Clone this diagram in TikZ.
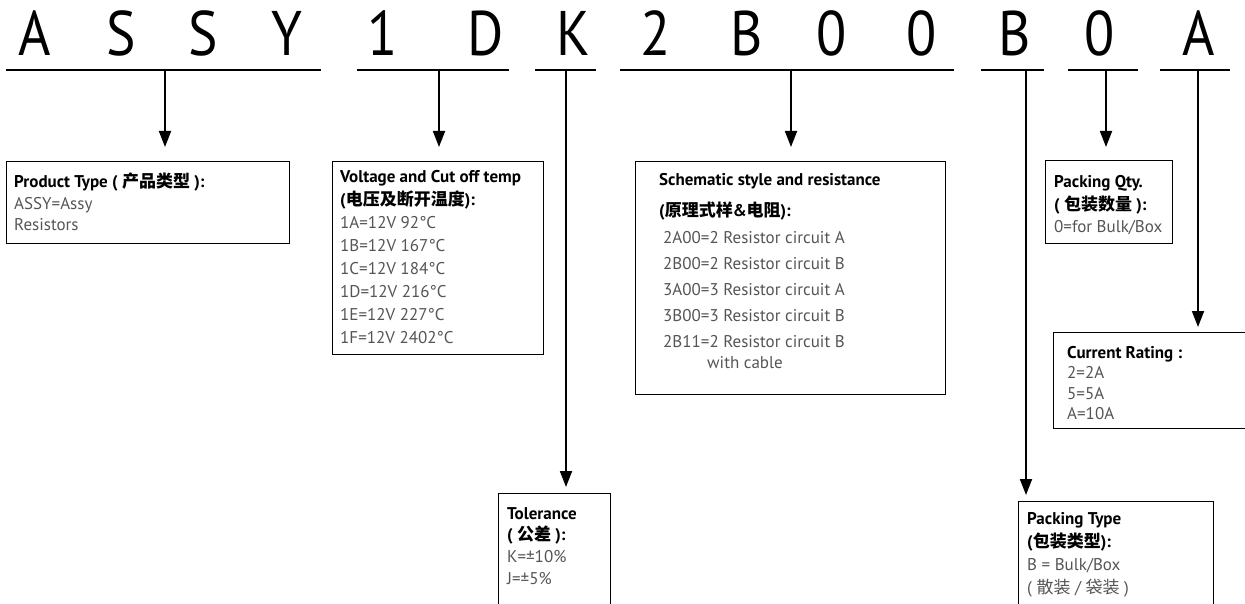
\documentclass[tikz,border=0pt]{standalone}
\usepackage{fontspec}
\setmainfont{PT Sans}
\newfontfamily\cjk{Noto Sans CJK SC}
\newfontfamily\bigf[FakeStretch=0.88]{PT Sans}
\usetikzlibrary{arrows.meta,calc}
\definecolor{txtgray}{RGB}{85,85,85}
\begin{document}
\begin{tikzpicture}[x=1pt,y=-1pt,
  seg/.style={line width=2pt},
  arr/.style={line width=1.8pt,-{Triangle[length=16pt,width=12pt]}},
  box/.style={draw,line width=1.3pt,inner sep=0pt,anchor=north west},
  big/.style={font=\bigf\fontsize{63}{63}\selectfont,anchor=base,inner sep=0pt},
  txt/.style={font=\fontsize{17}{21}\selectfont,anchor=base west,inner sep=0pt,text=txtgray},
]
\useasboundingbox (0,0) rectangle (1245,604);
% top code letters
\node[big] (L1) at (35,56) {A};
\node[big] (L2) at (121,56) {S};
\node[big] (L3) at (203,56) {S};
\node[big] (L4) at (287,56) {Y};
\node[big] (L5) at (383,56) {1};
\node[big] (L6) at (486,56) {D};
\node[big] (L7) at (573,56) {K};
\node[big] (L8) at (656,56) {2};
\node[big] (L9) at (747,56) {B};
\node[big] (L10) at (832,56) {0};
\node[big] (L11) at (922,56) {0};
\node[big] (L12) at (1015,56) {B};
\node[big] (L13) at (1100,56) {0};
\node[big] (L14) at (1199,56) {A};
% underline segments
\coordinate (s1a) at (6,70);   \coordinate (s1b) at (321,70);  \coordinate (s1t) at (165,70);
\coordinate (s2a) at (357,70); \coordinate (s2b) at (509,70);  \coordinate (s2t) at (439,70);
\coordinate (s3a) at (535,70); \coordinate (s3b) at (596,70);  \coordinate (s3t) at (566,70);
\coordinate (s4a) at (620,70); \coordinate (s4b) at (954,70);  \coordinate (s4t) at (791,70);
\coordinate (s5a) at (981,70); \coordinate (s5b) at (1044,70); \coordinate (s5t) at (1026,70);
\coordinate (s6a) at (1068,70);\coordinate (s6b) at (1138,70); \coordinate (s6t) at (1106,70);
\coordinate (s7a) at (1160,70);\coordinate (s7b) at (1230,70); \coordinate (s7t) at (1198,70);
\foreach \i in {1,...,7} {\draw[seg] (s\i a) -- (s\i b);}
% boxes
\node[box,minimum width=283pt,minimum height=82pt] (b1) at (6,161) {};
\node[box,minimum width=211pt,minimum height=193pt] (b2) at (332,161) {};
\node[box,minimum width=310pt,minimum height=233pt] (b3) at (635,161) {};
\node[box,minimum width=127pt,minimum height=83pt] (b4) at (1045,160) {};
\node[box,minimum width=200pt,minimum height=96pt] (b5) at (1053,332) {};
\node[box,minimum width=112pt,minimum height=130pt] (b6) at (498,493) {};
\node[box,minimum width=195pt,minimum height=130pt] (b7) at (1018,501) {};
% texts
\node[txt] (t1) at (14,188) {\vtop{\baselineskip=21.5pt
  \hbox{\color{black}\bfseries Product Type ( {\cjk 产品类型} ):}
  \hbox{ASSY=Assy}\hbox{Resistors}}};
\node[txt] (t2) at (340,183) {\vtop{\baselineskip=22.9pt
  \hbox{\color{black}\bfseries Voltage and Cut off temp}
  \hbox{\color{black}\bfseries ({\cjk 电压及断开温度}):}
  \hbox{1A=12V 92°C}\hbox{1B=12V 167°C}\hbox{1C=12V 184°C}
  \hbox{1D=12V 216°C}\hbox{1E=12V 227°C}\hbox{1F=12V 2402°C}}};
\node[txt] (t3) at (659,186) {\vtop{\baselineskip=26pt
  \hbox{\color{black}\bfseries Schematic style and resistance}
  \vskip5pt
  \hbox{\color{black}\bfseries ({\cjk 原理式样}\&{\cjk 电阻}):}
  \vskip1pt
  \hbox{\kern4pt 2A00=2 Resistor circuit A}
  \hbox{\kern4pt 2B00=2 Resistor circuit B}
  \hbox{\kern4pt 3A00=3 Resistor circuit A}
  \hbox{\kern4pt 3B00=3 Resistor circuit B}
  \hbox{\kern4pt 2B11=2 Resistor circuit B}
  \vskip-5pt
  \hbox{\kern48pt with cable}}};
\node[txt] (t4) at (1054,188) {\vtop{\baselineskip=22.5pt
  \hbox{\color{black}\bfseries Packing Qty.}
  \hbox{\color{black}\bfseries ( {\cjk 包装数量} ):}
  \hbox{0=for Bulk/Box}}};
\node[txt] (t5) at (1067,358) {\vtop{\baselineskip=20.5pt
  \hbox{\color{black}\bfseries Current Rating :}
  \hbox{2=2A}\hbox{5=5A}\hbox{A=10A}}};
\node[txt] (t6) at (507,519) {\vtop{\baselineskip=21.7pt
  \hbox{\color{black}\bfseries Tolerance}
  \hbox{\color{black}\bfseries ( {\cjk 公差} ):}
  \hbox{K=±10\%}\hbox{J=±5\%}}};
\node[txt] (t7) at (1027,524) {\vtop{\baselineskip=23pt
  \hbox{\color{black}\bfseries Packing Type}
  \hbox{\color{black}\bfseries ({\cjk 包装类型}):}
  \hbox{B = Bulk/Box}
  \hbox{( {\cjk 散装} / {\cjk 袋装} )}}};
% arrows
\draw[arr,shorten >=14pt] (s1t) -- (s1t |- b1.north);
\draw[arr,shorten >=14pt] (s2t) -- (s2t |- b2.north);
\draw[arr,shorten >=6pt]  (s3t) -- (s3t |- b6.north);
\draw[arr,shorten >=14pt] (s4t) -- (s4t |- b3.north);
\draw[arr,shorten >=6pt]  (s5t) -- (s5t |- b7.north);
\draw[arr,shorten >=13pt] (s6t) -- (s6t |- b4.north);
\draw[arr,shorten >=5pt]  (s7t) -- (s7t |- b5.north);
\end{tikzpicture}
\end{document}
